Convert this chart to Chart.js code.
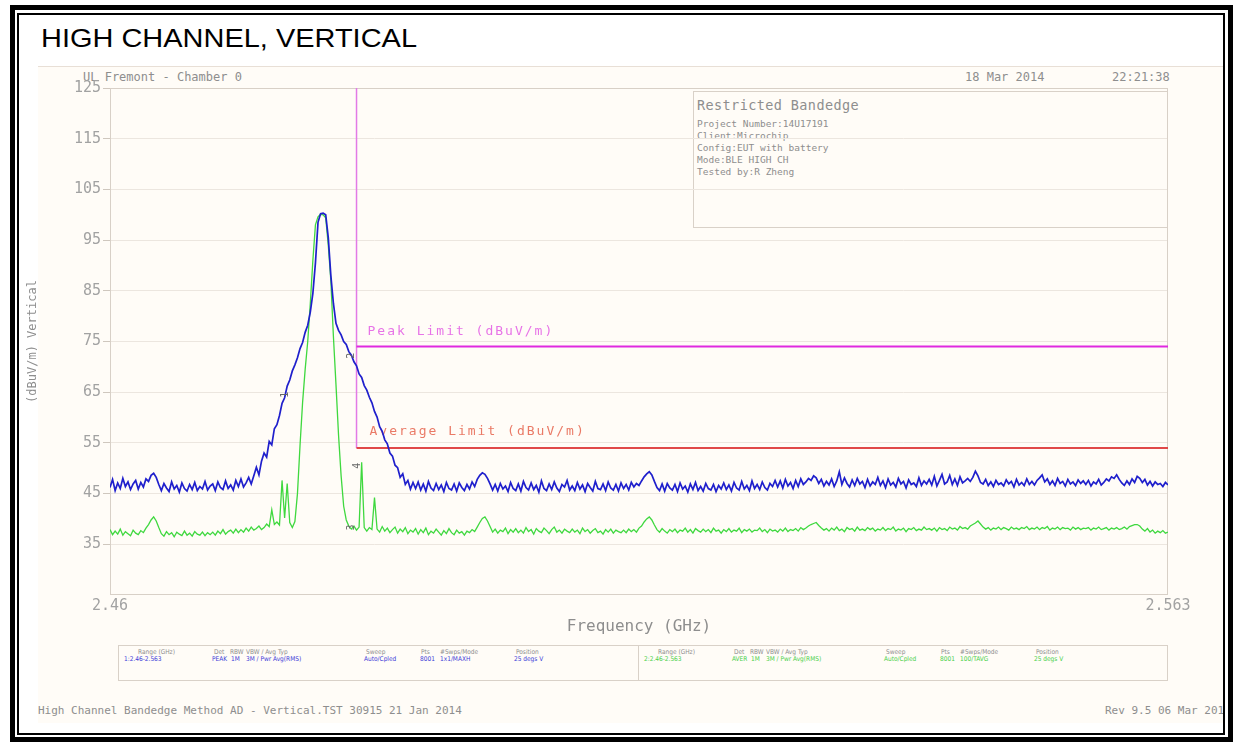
<!DOCTYPE html>
<html>
<head>
<meta charset="utf-8">
<script src="https://cdn.jsdelivr.net/npm/chart.js@4.4.0/dist/chart.umd.min.js"></script>
<style>
  body { margin: 0; width: 1233px; height: 743px; overflow: hidden; position: relative; background: #fff; }
  .abs { position: absolute; white-space: nowrap; }
  .mono { font-family: 'DejaVu Sans Mono', monospace; color: #8e8e8e; }
  #shot { left: 38px; top: 66px; width: 1186px; height: 656px; background: #fffcf7; border-top: 1px solid #e8dfd6; overflow: hidden; }
  #frameOuter { left: 10px; top: 5px; width: 1223px; height: 737px; border: 5px solid #000; box-sizing: border-box; }
  #frameInner { left: 17px; top: 13px; width: 1208px; height: 722px; border: 2px solid #000; box-sizing: border-box; }
  #title { left: 41px; top: 25px; font: 26px 'Liberation Sans', Arial, sans-serif; line-height: 26px; color: #000; transform-origin: 0 0; }
  #info { left: 693px; top: 91px; width: 475px; height: 137px; border: 1px solid #d9d1c8; box-sizing: border-box; }
  #legendBox { left: 118px; top: 645px; width: 1050px; height: 36px; border: 1px solid #d9d1c8; box-sizing: border-box; }
  #legendDiv { left: 638px; top: 645px; width: 1px; height: 36px; background: #d9d1c8; }
  .leg { font: 6.5px 'DejaVu Sans Condensed', 'DejaVu Sans', sans-serif; line-height: 7px; }
  canvas { position: absolute; left: 0; top: 0; }
</style>
</head>
<body>
<div id="shot" class="abs"></div>
<div id="title" class="abs">HIGH CHANNEL, VERTICAL</div>
<div class="abs mono" style="left:83px;top:70px;font-size:12px;line-height:14px;">UL Fremont - Chamber 0</div>
<div class="abs mono" style="left:965px;top:70px;font-size:12px;line-height:14px;">18 Mar 2014</div>
<div class="abs mono" style="left:1112px;top:70px;font-size:12px;line-height:14px;">22:21:38</div>
<div id="info" class="abs"></div>
<div class="abs mono" style="left:697px;top:97px;font-size:13.5px;line-height:16px;letter-spacing:0.4px;">Restricted Bandedge</div>
<div class="abs mono" style="left:697px;top:118px;font-size:9.5px;line-height:12px;">Project Number:14U17191<br>Client:Microchip<br>Config:EUT with battery<br>Mode:BLE HIGH CH<br>Tested by:R Zheng</div>
<div id="legendBox" class="abs"></div>
<div id="legendDiv" class="abs"></div>
<div id="legendText"></div>
<div class="abs mono" style="left:38px;top:704px;font-size:11px;line-height:14px;">High Channel Bandedge Method AD - Vertical.TST 30915 21 Jan 2014</div>
<div class="abs mono" style="left:1105px;top:704px;width:119px;overflow:hidden;font-size:11px;line-height:14px;">Rev 9.5 06 Mar 2014</div>
<canvas id="myChart" width="1233" height="743"></canvas>
<div id="frameOuter" class="abs"></div>
<div id="frameInner" class="abs"></div>
<script>
// sweep: 2.46 - 2.563 GHz, one reading every 0.25 MHz
const startGHz = 2.46;
const stopGHz = 2.563;
const stepGHz = 0.00025;

// peak detector trace (blue), dBuV/m, 20 readings per row (5 MHz)
const peakTrace = [
  46.2, 47.8, 45.6, 47.1, 46.0, 48.0, 46.4, 47.3, 45.8, 46.9, 47.6, 45.9, 47.2, 46.3, 47.9, 47.4, 48.6, 49.0, 48.2, 46.8,
  45.6, 47.0, 46.1, 45.4, 47.3, 45.9, 46.6, 45.3, 47.1, 46.0, 45.5, 46.8, 45.8, 47.2, 45.6, 46.4, 45.9, 47.4, 45.7, 46.5,
  46.9, 45.6, 47.3, 46.2, 45.8, 47.5, 46.0, 46.7, 45.7, 47.6, 46.4, 47.9, 46.3, 47.1, 48.2, 46.9, 48.5, 50.2, 48.7, 51.4,
  53.0, 52.2, 55.3, 54.6, 57.8, 58.6, 60.4, 62.8, 63.9, 66.2, 67.4, 69.2, 70.4, 71.8, 73.6, 74.8, 76.8, 78.2, 80.8, 84.5,
  90.5, 98.5, 100.2, 100.3, 100.0, 95.5, 88.0, 82.5, 78.6, 77.2, 76.3, 75.0, 74.4, 73.0, 72.3, 71.0, 70.2, 68.6, 67.9, 66.3,
  65.4, 64.0, 62.9, 61.2, 60.1, 58.2, 57.3, 55.6, 54.8, 53.0, 52.4, 50.6, 50.1, 48.2, 48.9, 46.8, 47.6, 45.9, 47.2, 46.0,
  47.3, 45.7, 46.9, 45.5, 47.4, 46.1, 45.6, 47.0, 45.8, 46.7, 45.4, 47.2, 46.0, 45.7, 46.9, 45.5, 47.1, 46.2, 45.6, 46.8,
  45.9, 47.3, 46.4, 47.8, 48.6, 49.1, 48.8, 48.0, 46.9, 45.7, 46.8, 45.5, 47.0, 45.9, 46.5, 45.4, 47.2, 46.0, 45.6, 46.9,
  45.5, 47.4, 46.2, 45.7, 47.1, 45.8, 46.6, 45.3, 47.5, 46.0, 45.6, 46.9, 45.8, 47.3, 46.1, 45.4, 46.8, 46.3, 47.6, 45.7,
  46.5, 45.6, 47.2, 45.9, 46.7, 45.4, 47.0, 46.2, 45.5, 47.4, 46.0, 45.8, 46.9, 45.6, 47.3, 46.1, 45.7, 46.8, 45.5, 47.1,
  46.0, 46.8, 45.7, 47.2, 46.3, 47.0, 46.6, 47.5, 48.3, 48.9, 49.3, 48.7, 47.4, 46.2, 45.6, 46.9, 45.5, 47.0, 46.1, 45.7,
  46.8, 45.4, 47.1, 45.9, 46.5, 45.3, 46.9, 45.8, 47.2, 45.6, 46.4, 45.5, 47.0, 46.0, 45.7, 46.8, 45.4, 46.6, 45.9, 47.1,
  45.8, 46.7, 45.5, 47.2, 46.1, 45.7, 47.4, 45.9, 46.6, 45.6, 47.5, 46.0, 46.8, 45.8, 47.3, 46.2, 45.7, 47.0, 46.4, 47.6,
  46.3, 47.5, 46.1, 47.8, 46.5, 47.2, 46.0, 47.6, 46.4, 47.9, 46.8, 47.3, 48.0, 47.6, 48.5, 48.1, 47.0, 47.8, 46.5, 47.4,
  46.7, 47.9, 46.4, 47.5, 49.3, 46.8, 48.1, 47.0, 46.3, 47.7, 46.6, 48.0, 46.9, 47.4, 46.2, 47.8, 46.5, 47.3, 46.8, 48.2,
  46.6, 47.5, 46.2, 47.9, 46.7, 47.2, 46.3, 48.0, 46.9, 47.4, 46.1, 47.7, 46.8, 47.1, 46.4, 48.1, 46.6, 47.5, 46.9, 47.8,
  46.7, 48.4, 46.5, 47.6, 48.8, 46.9, 47.3, 48.6, 46.8, 47.9, 46.6, 48.3, 47.1, 47.5, 48.0, 47.4, 48.2, 49.4, 48.5, 47.2,
  46.9, 47.8, 46.6, 47.3, 46.4, 47.6, 46.8, 47.1, 46.5, 47.7, 46.9, 47.4, 46.3, 47.8, 46.7, 47.2, 46.6, 47.9, 46.8, 47.4,
  46.7, 47.6, 48.1, 48.7, 47.3, 47.9, 46.8, 47.5, 46.6, 48.0, 47.0, 47.4, 46.5, 47.8, 46.9, 47.3, 46.6, 47.7, 47.0, 47.5,
  46.8, 47.6, 46.5, 47.3, 46.9, 47.8, 46.7, 47.2, 47.9, 47.5, 48.3, 48.0, 48.7, 47.8, 47.1, 46.6, 47.5, 46.8, 47.9, 47.2,
  48.4, 48.0, 47.2, 47.8, 46.7, 47.4, 46.5, 47.3, 46.8, 47.0, 46.4, 47.2, 46.7
];

// average detector trace (green), dBuV/m
const avgTrace = [
  37.9, 36.9, 37.6, 37.0, 38.0, 36.8, 37.5, 37.1, 36.7, 37.8, 37.2, 36.9, 37.7, 37.3, 38.2, 38.9, 39.8, 40.4, 39.6, 38.3,
  37.1, 36.6, 37.5, 36.9, 37.3, 36.5, 37.4, 37.0, 36.7, 37.6, 36.8, 37.2, 36.6, 37.5, 37.0, 36.8, 37.4, 36.7, 37.3, 36.9,
  37.4, 36.8, 37.6, 37.1, 37.9, 37.0, 37.5, 37.8, 37.2, 38.0, 37.3, 37.9, 37.4, 38.2, 37.6, 38.4, 37.8, 38.1, 38.6, 37.9,
  38.3, 39.0, 38.5, 41.8, 38.9, 39.4, 38.8, 47.6, 40.2, 47.0, 39.3, 38.3, 39.5, 45.0, 54.5, 63.0, 69.5, 75.0, 82.5, 91.0,
  98.0, 99.6, 100.1, 100.0, 99.4, 94.0, 87.0, 76.0, 66.5, 56.5, 48.5, 42.5, 39.8, 38.6, 38.0, 38.6, 37.8, 38.4, 51.2, 38.3,
  37.6, 38.3, 37.9, 44.2, 38.0, 37.4, 38.5, 37.6, 38.2, 37.3, 37.9, 38.4, 37.2, 38.0, 37.5, 38.3, 37.1, 37.8, 37.4, 38.1,
  37.0, 37.9, 37.3, 38.2, 36.9, 37.6, 37.2, 38.0, 37.4, 36.8, 37.7, 37.1, 38.1, 37.3, 36.9, 37.8, 37.2, 37.5, 36.8, 37.6,
  37.3, 37.9, 37.5, 38.4, 39.3, 40.1, 40.4, 39.6, 38.5, 37.4, 38.0, 37.2, 37.8, 37.5, 38.2, 37.1, 37.9, 37.4, 38.1, 37.3,
  37.8, 37.2, 38.3, 37.5, 37.9, 37.0, 38.1, 37.6, 37.3, 38.2, 37.7, 37.1, 37.9, 38.4, 37.4, 37.8, 37.2, 38.0, 37.6, 37.3,
  38.0, 37.4, 37.8, 37.1, 38.2, 37.5, 37.9, 37.2, 37.7, 38.1, 37.3, 37.6, 37.0, 37.9, 37.4, 38.0, 37.2, 37.8, 37.5, 37.3,
  37.8, 37.3, 38.0, 37.5, 37.9, 37.4, 38.2, 38.6, 39.4, 40.0, 40.4, 39.8, 38.8, 37.9, 37.4, 38.1, 37.6, 37.2, 37.9, 37.5,
  38.0, 37.3, 37.8, 37.6, 38.2, 37.4, 37.9, 37.2, 38.1, 37.7, 37.4, 38.0, 37.5, 37.9, 37.3, 38.2, 37.6, 37.8, 37.2, 37.9,
  37.5, 38.1, 37.4, 37.8, 37.6, 38.2, 37.3, 37.9, 37.6, 38.0, 37.4, 37.8, 37.7, 38.2, 37.5, 37.9, 37.3, 38.0, 37.6, 37.8,
  37.4, 38.0, 37.6, 38.2, 37.5, 37.9, 37.7, 38.1, 37.6, 38.3, 37.9, 38.2, 38.6, 38.9, 39.1, 39.3, 38.7, 38.2, 37.8, 38.1,
  37.6, 38.2, 37.8, 38.4, 37.7, 38.0, 37.5, 38.3, 37.9, 38.1, 37.6, 38.4, 37.8, 38.0, 37.7, 38.3, 37.9, 38.2, 37.6, 38.0,
  37.8, 38.3, 37.7, 38.1, 37.9, 38.4, 37.6, 38.0, 37.8, 38.2, 37.5, 38.1, 37.9, 38.3, 37.7, 38.0, 37.8, 38.4, 37.9, 38.1,
  37.8, 38.2, 37.6, 38.3, 37.9, 38.1, 37.7, 38.4, 38.0, 38.2, 37.8, 38.5, 38.1, 38.3, 38.0, 38.6, 38.9, 39.2, 39.6, 39.0,
  38.4, 38.0, 38.3, 37.8, 38.2, 38.0, 38.4, 37.9, 38.3, 38.1, 37.8, 38.4, 38.0, 38.2, 37.9, 38.3, 38.1, 38.5, 37.9, 38.2,
  38.0, 38.4, 37.9, 38.3, 38.1, 38.5, 37.8, 38.2, 38.0, 38.4, 37.9, 38.3, 38.1, 38.2, 37.8, 38.4, 38.0, 38.3, 37.9, 38.2,
  38.1, 38.3, 37.8, 38.2, 38.0, 38.4, 37.9, 38.1, 38.3, 37.8, 38.2, 38.0, 38.3, 37.9, 38.1, 38.4, 38.0, 38.5, 38.7, 38.9,
  38.9, 38.6, 38.0, 37.6, 38.1, 37.4, 37.8, 37.2, 37.6, 37.3, 37.7, 37.2, 37.4
];

// limits
const bandEdge = 2.484;
const peakLimit = 74;
const avgLimit = 54;

// axes
const yTicks = [35, 45, 55, 65, 75, 85, 95, 105, 115, 125];
const xTickValues = [2.46, 2.563];
const xTickLabels = ['2.46', '2.563'];

// markers
const markerLabels = ['1', '2', '3', '4'];
const markerFreqs = [2.4771, 2.4835, 2.4835, 2.4841];
const markerLevels = [64.5, 72.2, 38.3, 50.5];

// legend table under the plot
const legendHeads = [['Range (GHz)', 20], ['Det', 96], ['RBW', 112], ['VBW / Avg Typ', 128], ['Sweep', 248], ['Pts', 303], ['#Swps/Mode', 322], ['Position', 398]];
const legendPeak = [['1:2.46-2.563', 6], ['PEAK', 94], ['1M', 113], ['3M / Pwr Avg(RMS)', 128], ['Auto/Cpled', 246], ['8001', 302], ['1x1/MAXH', 322], ['25 degs V', 396]];
const legendAvg = [['2:2.46-2.563', 6], ['AVER', 94], ['1M', 113], ['3M / Pwr Avg(RMS)', 128], ['Auto/Cpled', 246], ['8001', 302], ['100/TAVG', 322], ['25 degs V', 396]];

const freqs = peakTrace.map((v, i) => +(startGHz + i * stepGHz).toFixed(5));
const pts = arr => arr.map((v, i) => ({x: freqs[i], y: v}));

// stretch the heading to its width in the document
const title = document.getElementById('title');
title.style.transform = 'scaleX(' + (376 / title.getBoundingClientRect().width) + ')';

const lt = document.getElementById('legendText');
function legendRow(items, left, top, color) {
  items.forEach(([txt, off]) => {
    const d = document.createElement('div');
    d.className = 'abs leg';
    d.style.left = (left + off) + 'px';
    d.style.top = top + 'px';
    d.style.color = color;
    d.textContent = txt;
    lt.appendChild(d);
  });
}
legendRow(legendHeads, 118, 649, '#8e8e8e');
legendRow(legendPeak, 118, 656, '#3b3bd8');
legendRow(legendHeads, 638, 649, '#8e8e8e');
legendRow(legendAvg, 638, 656, '#49d049');

const overlay = {
  id: 'overlay',
  beforeDatasetsDraw(chart) {
    const {ctx, chartArea: a, scales: {x, y}} = chart;
    ctx.save();
    ctx.strokeStyle = '#d8d0c7';
    ctx.lineWidth = 1;
    ctx.strokeRect(a.left + 0.5, a.top + 0.5, a.right - a.left - 1, a.bottom - a.top - 1);
    ctx.font = '13px "DejaVu Sans Mono"';
    ctx.letterSpacing = '2px';
    ctx.textBaseline = 'middle';
    ctx.fillStyle = '#e774e7';
    ctx.fillText('Peak Limit (dBuV/m)', x.getPixelForValue(bandEdge) + 11, y.getPixelForValue(peakLimit + 3));
    ctx.fillStyle = '#ea7a66';
    ctx.fillText('Average Limit (dBuV/m)', x.getPixelForValue(bandEdge) + 13, y.getPixelForValue(avgLimit + 3.3));
    ctx.restore();
  },
  afterDatasetsDraw(chart) {
    const {ctx, scales: {x, y}} = chart;
    ctx.save();
    ctx.font = '10px "DejaVu Sans Mono"';
    ctx.fillStyle = '#666';
    ctx.textAlign = 'center';
    ctx.textBaseline = 'middle';
    markerLabels.forEach((m, k) => {
      ctx.save();
      ctx.translate(x.getPixelForValue(markerFreqs[k]), y.getPixelForValue(markerLevels[k]));
      ctx.rotate(-Math.PI / 2);
      ctx.fillText(m, 0, 0);
      ctx.restore();
    });
    ctx.restore();
  }
};

const tickFont = {family: 'DejaVu Sans Mono', size: 15};

const ctx = document.getElementById('myChart').getContext('2d');
const myChart = new Chart(ctx, {
  type: 'line',
  data: {
    datasets: [
      {label: 'Peak', data: pts(peakTrace), borderColor: '#1f1fcc', borderWidth: 1.7, order: 1},
      {label: 'Average', data: pts(avgTrace), borderColor: '#3fd83f', borderWidth: 1.3, order: 2},
      {label: 'Peak Limit', data: [{x: bandEdge, y: peakLimit}, {x: stopGHz, y: peakLimit}], borderColor: '#e028e0', borderWidth: 2, order: 3},
      {label: 'Average Limit', data: [{x: bandEdge, y: avgLimit}, {x: stopGHz, y: avgLimit}], borderColor: '#e04848', borderWidth: 2, order: 3},
      {label: 'Band Edge', data: [{x: bandEdge, y: 125}, {x: bandEdge, y: avgLimit}], borderColor: '#e27ae6', borderWidth: 1.5, order: 3}
    ]
  },
  options: {
    responsive: false,
    animation: false,
    devicePixelRatio: 1,
    layout: {padding: {left: 20, top: 88, right: 65, bottom: 103}},
    elements: {point: {radius: 0}, line: {tension: 0}},
    plugins: {legend: {display: false}, tooltip: {enabled: false}},
    scales: {
      x: {
        type: 'linear',
        min: startGHz,
        max: stopGHz,
        afterBuildTicks: s => { s.ticks = xTickValues.map(v => ({value: v})); },
        afterFit: s => { s.height = 45; },
        grid: {display: false, drawTicks: false},
        border: {display: false},
        ticks: {
          color: '#a2a2a2', font: tickFont, padding: 2, maxRotation: 0, autoSkip: false,
          callback: v => xTickLabels[xTickValues.indexOf(v)]
        },
        title: {display: true, text: 'Frequency (GHz)', color: '#8e8e8e', font: {family: 'DejaVu Sans Mono', size: 16}, padding: {top: 0, bottom: 4}}
      },
      y: {
        min: 25,
        max: 125,
        afterBuildTicks: s => { s.ticks = yTicks.map(v => ({value: v})); },
        afterFit: s => { s.width = 90; },
        grid: {color: '#ece6df', tickLength: 7, tickColor: '#cfc7be'},
        border: {display: false},
        ticks: {color: '#a2a2a2', font: tickFont, padding: 2},
        title: {display: true, text: '(dBuV/m) Vertical', color: '#8e8e8e', font: {family: 'DejaVu Sans Mono', size: 12}, padding: {top: 6, bottom: 0}}
      }
    }
  },
  plugins: [overlay]
});
</script>
</body>
</html>
